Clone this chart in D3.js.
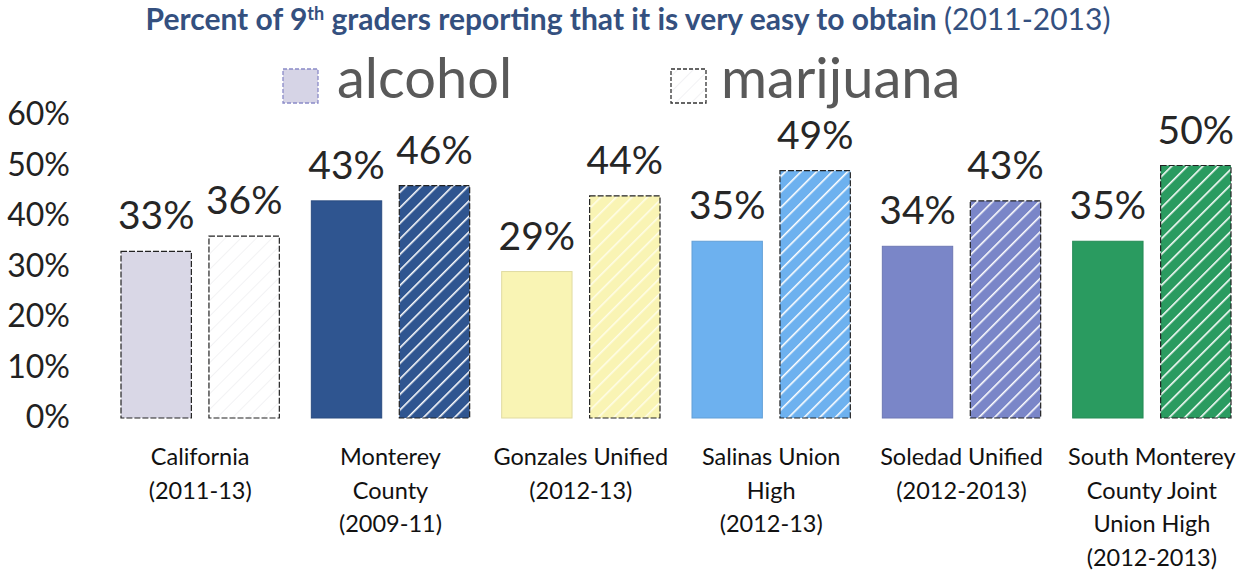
<!DOCTYPE html>
<html>
<head>
<meta charset="utf-8">
<script src="https://cdn.jsdelivr.net/npm/d3@7"></script>
<style>
  html, body { margin: 0; padding: 0; background: #fff; }
  svg { display: block; font-family: Lato, "Open Sans", sans-serif; }
</style>
</head>
<body>
<svg id="chart" width="1250" height="573"></svg>
<script>
// ---- data ----
const categories = [
  "California (2011-13)",
  "Monterey County (2009-11)",
  "Gonzales Unified (2012-13)",
  "Salinas Union High (2012-13)",
  "Soledad Unified (2012-2013)",
  "South Monterey County Joint Union High (2012-2013)"
];
const categoryLines = [
  ["California", "(2011-13)"],
  ["Monterey", "County", "(2009-11)"],
  ["Gonzales Unified", "(2012-13)"],
  ["Salinas Union", "High", "(2012-13)"],
  ["Soledad Unified", "(2012-2013)"],
  ["South Monterey", "County Joint", "Union High", "(2012-2013)"]
];
const series = ["alcohol", "marijuana"];
const alcohol = [33, 43, 29, 35, 34, 35];
const marijuana = [36, 46, 44, 49, 43, 50];
const baseColors = ["#d9d7e6", "#2f5590", "#f9f4b4", "#6db1ef", "#7a86c8", "#2a9b60"];
const yTicks = [0, 10, 20, 30, 40, 50, 60];

// ---- layout ----
const svg = d3.select("#chart");
const x0 = d3.scaleBand().domain(categories).range([105, 1247]).paddingInner(0).paddingOuter(0);
const x1 = d3.scaleBand().domain(series).range([16, x0.bandwidth() - 16]).paddingInner(0.2).paddingOuter(0);
const y = d3.scaleLinear().domain([0, 60]).range([418, 115]);

// ---- patterns ----
const defs = svg.append("defs");
baseColors.forEach((c, i) => {
  const p = defs.append("pattern")
    .attr("id", "hatch" + i)
    .attr("patternUnits", "userSpaceOnUse")
    .attr("width", 11).attr("height", 11)
    .attr("patternTransform", "rotate(45)");
  p.append("rect").attr("width", 11).attr("height", 11)
    .attr("fill", i === 0 ? "#ffffff" : c);
  p.append("line").attr("x1", 0).attr("y1", 0).attr("x2", 0).attr("y2", 11)
    .attr("stroke", i === 0 ? "#f2f2f4" : (i === 2 ? "#fffde8" : "#ffffff"))
    .attr("stroke-width", i === 0 ? 2 : 3.2);
});

// ---- title ----
const title = svg.append("text")
  .attr("x", 628).attr("y", 30)
  .attr("text-anchor", "middle")
  .attr("fill", "#34507f")
  .attr("font-size", 30);
title.append("tspan").attr("font-weight", 700).text("Percent of 9");
title.append("tspan").attr("font-weight", 700).attr("font-size", 18).attr("dy", -10).text("th");
title.append("tspan").attr("font-weight", 700).attr("dy", 10).text(" graders reporting that it is very easy to obtain ");
title.append("tspan").attr("font-weight", 400).text("(2011-2013)");

// ---- legend ----
const legendItems = [
  { name: "alcohol", bx: 283, tx: 337, fill: "#d6d4e6", stroke: "#8a8ac8" },
  { name: "marijuana", bx: 671, tx: 721, fill: "url(#hatch0)", stroke: "#333" }
];
const lg = svg.append("g");
legendItems.forEach(d => {
  lg.append("rect").attr("x", d.bx).attr("y", 69).attr("width", 35).attr("height", 34)
    .attr("fill", d.fill).attr("stroke", d.stroke).attr("stroke-width", 1.3)
    .attr("stroke-dasharray", "4,2");
  lg.append("text").attr("x", d.tx).attr("y", 98)
    .attr("font-size", 56).attr("fill", "#595959").text(d.name);
});

// ---- y axis ----
const yAxis = d3.axisLeft(y).tickValues(yTicks).tickFormat(d => d + "%").tickSize(0).tickPadding(0);
const ya = svg.append("g").attr("transform", "translate(70,0)").call(yAxis);
ya.select(".domain").remove();
ya.selectAll("text").attr("font-size", 32).attr("fill", "#222").attr("font-family", "Lato, sans-serif").attr("dy", "0.3em");

// ---- bars ----
const rows = categories.map((c, i) => ({ cat: c, i, values: [
  { key: "alcohol", v: alcohol[i] },
  { key: "marijuana", v: marijuana[i] }
]}));

const groups = svg.append("g").selectAll("g").data(rows).join("g")
  .attr("transform", d => `translate(${x0(d.cat)},0)`);

groups.selectAll("rect").data(d => d.values.map(v => ({ ...v, i: d.i }))).join("rect")
  .attr("x", d => x1(d.key))
  .attr("y", d => y(d.v))
  .attr("width", x1.bandwidth())
  .attr("height", d => y(0) - y(d.v))
  .attr("fill", d => d.key === "alcohol" ? baseColors[d.i] : `url(#hatch${d.i})`)
  .attr("stroke", d => (d.key === "marijuana" || d.i === 0) ? "#222" : d3.color(baseColors[d.i]).darker(0.3))
  .attr("stroke-width", d => (d.key === "marijuana" || d.i === 0) ? 1.2 : 1)
  .attr("stroke-dasharray", d => (d.key === "marijuana" || d.i === 0) ? "6,2" : null);

groups.selectAll("text.val").data(d => d.values.map(v => ({ ...v, i: d.i }))).join("text")
  .attr("class", "val")
  .attr("x", d => x1(d.key) + x1.bandwidth() / 2)
  .attr("y", d => y(d.v) - 22)
  .attr("text-anchor", "middle")
  .attr("font-size", 39)
  .attr("fill", "#262626")
  .text(d => d.v + "%");

// ---- category labels ----
groups.append("text")
  .attr("text-anchor", "middle")
  .attr("font-size", 23.5)
  .attr("fill", "#111")
  .selectAll("tspan").data(d => categoryLines[d.i]).join("tspan")
  .attr("x", x0.bandwidth() / 2)
  .attr("y", (d, k) => 465 + k * 33.5)
  .text(d => d);
</script>
</body>
</html>
